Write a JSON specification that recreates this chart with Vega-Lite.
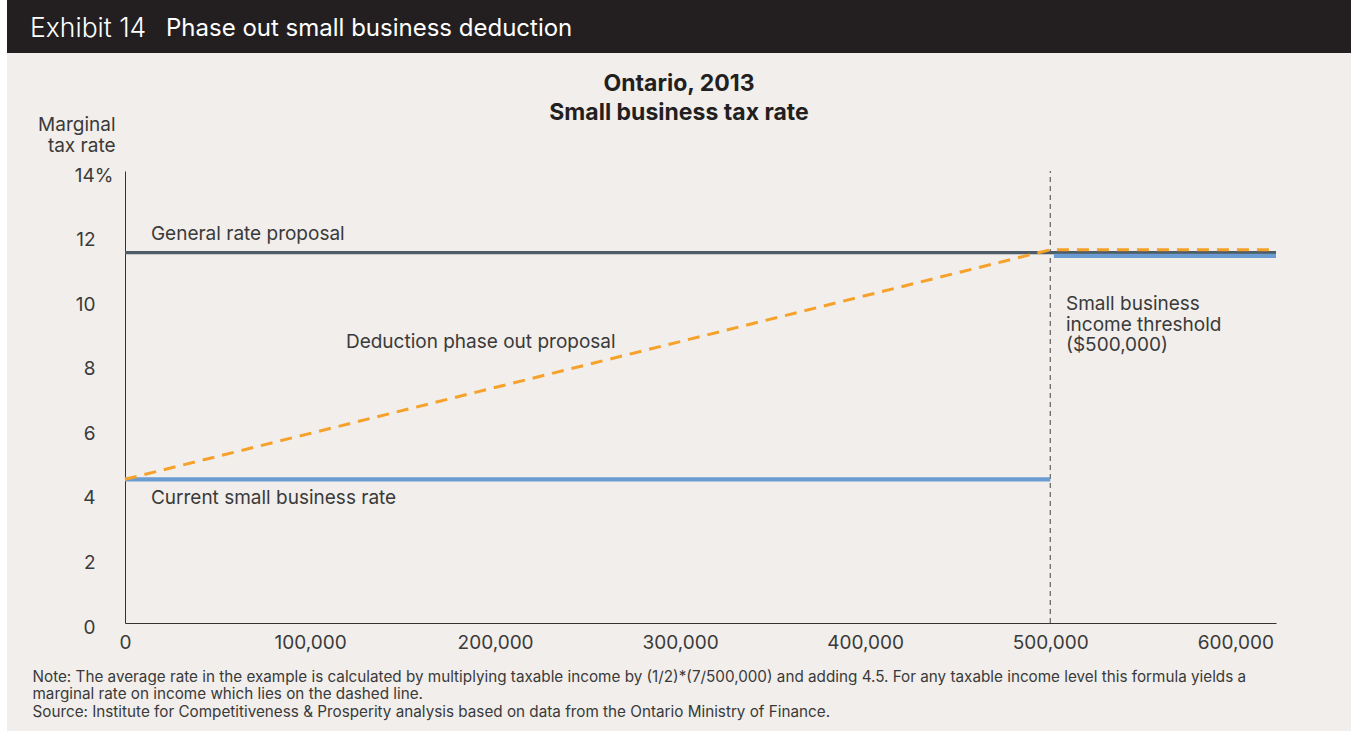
{
  "$schema": "https://vega.github.io/schema/vega-lite/v6.json",
  "background": "#ffffff",
  "padding": {"left": 7, "top": 0, "right": 1, "bottom": 1},
  "spacing": 0,
  "bounds": "flush",
  "config": {
    "font": "Inter",
    "view": {"stroke": null},
    "axis": {
      "labelFont": "Inter",
      "labelFontSize": 19,
      "labelColor": "#3a3a3a",
      "titleFont": "Inter",
      "titleColor": "#3a3a3a",
      "titleFontWeight": "normal",
      "domainColor": "#333333",
      "domainWidth": 1,
      "ticks": false,
      "grid": false
    }
  },
  "vconcat": [
    {
      "width": 1344,
      "height": 53,
      "view": {"fill": "#231f20", "stroke": null},
      "data": {
        "values": [
          {"part": "exhibit", "label": "Exhibit 14"},
          {"part": "heading", "label": "Phase out small business deduction"}
        ]
      },
      "encoding": {
        "x": {
          "field": "part",
          "type": "nominal",
          "scale": {"type": "point", "domain": ["exhibit", "heading"], "range": [23, 159], "padding": 0},
          "axis": null
        },
        "text": {"field": "label"}
      },
      "layer": [
        {
          "transform": [{"filter": "datum.part === 'exhibit'"}],
          "mark": {"type": "text", "align": "left", "baseline": "middle", "dy": 2.5, "fontSize": 26.5, "fontWeight": 300, "color": "#ffffff"}
        },
        {
          "transform": [{"filter": "datum.part === 'heading'"}],
          "mark": {"type": "text", "align": "left", "baseline": "middle", "dy": 2.5, "fontSize": 24, "fontWeight": 400, "color": "#ffffff"}
        }
      ]
    },
    {
      "width": 1344,
      "height": 678,
      "view": {"fill": "#f1eeeb", "stroke": null},
      "title": {
        "text": ["Ontario, 2013", "Small business tax rate"],
        "fontSize": 23,
        "fontWeight": "bold",
        "color": "#231f20",
        "anchor": "middle",
        "frame": "group",
        "offset": -72,
        "lineHeight": 29
      },
      "layer": [
        {
          "data": {"values": [{"income": 500000, "low": 0, "high": 14}]},
          "mark": {"type": "rule", "color": "#444444", "strokeWidth": 1, "strokeDash": [5, 4]},
          "encoding": {
            "x": {
              "field": "income",
              "type": "quantitative",
              "scale": {"domain": [0, 622000], "range": [118, 1269], "nice": false, "zero": false},
              "axis": {
                "values": [0, 100000, 200000, 300000, 400000, 500000, 600000],
                "format": ",d",
                "offset": -108,
                "labelPadding": 10,
                "labelFlush": false,
                "title": [
                  "Note: The average rate in the example is calculated by multiplying taxable income by (1/2)*(7/500,000) and adding 4.5. For any taxable income level this formula yields a",
                  "marginal rate on income which lies on the dashed line.",
                  "Source: Institute for Competitiveness & Prosperity analysis based on data from the Ontario Ministry of Finance."
                ],
                "titleAnchor": "start",
                "titleAlign": "left",
                "titleBaseline": "alphabetic",
                "titleX": 25,
                "titleY": 58,
                "titleFontSize": 15.25,
                "titleLineHeight": 17.5
              }
            },
            "y": {
              "field": "low",
              "type": "quantitative",
              "scale": {"domain": [0, 14], "range": [570, 118], "nice": false, "zero": false},
              "axis": {
                "values": [0, 2, 4, 6, 8, 10, 12, 14],
                "offset": -118,
                "labelPadding": {"condition": {"test": "datum.value === 14", "value": 12}, "value": 30},
                "labelOffset": 4,
                "labelExpr": "datum.value === 14 ? '14%' : datum.label",
                "title": ["Marginal", "tax rate"],
                "titleAngle": 0,
                "titleAlign": "right",
                "titleBaseline": "alphabetic",
                "titleX": -10,
                "titleY": 77,
                "titleFontSize": 19,
                "titleLineHeight": 21
              }
            },
            "y2": {"field": "high"}
          }
        },
        {
          "data": {
            "values": [
              {"series": "general", "seg": "g", "income": 0, "rate": 11.47},
              {"series": "general", "seg": "g", "income": 622000, "rate": 11.47},
              {"series": "current", "seg": "c1", "income": 0, "rate": 4.45},
              {"series": "current", "seg": "c1", "income": 500000, "rate": 4.45},
              {"series": "current", "seg": "c2", "income": 502000, "rate": 11.37},
              {"series": "current", "seg": "c2", "income": 622000, "rate": 11.37},
              {"series": "phaseout", "seg": "p", "income": 0, "rate": 4.45},
              {"series": "phaseout", "seg": "p", "income": 500000, "rate": 11.56},
              {"series": "phaseout", "seg": "p", "income": 622000, "rate": 11.56}
            ]
          },
          "encoding": {
            "x": {"field": "income", "type": "quantitative"},
            "y": {"field": "rate", "type": "quantitative"},
            "detail": {"field": "seg"}
          },
          "layer": [
            {
              "transform": [{"filter": "datum.series === 'general'"}],
              "mark": {"type": "line", "color": "#4d5c66", "strokeWidth": 3.2}
            },
            {
              "transform": [{"filter": "datum.series === 'current'"}],
              "mark": {"type": "line", "color": "#6a9bd1", "strokeWidth": 4.2}
            },
            {
              "transform": [{"filter": "datum.series === 'phaseout'"}],
              "mark": {"type": "line", "color": "#f6a12a", "strokeWidth": 3, "strokeDash": [12, 8]}
            }
          ]
        },
        {
          "data": {
            "values": [
              {"income": 14000, "rate": 12.06, "label": "General rate proposal"},
              {"income": 119400, "rate": 8.70, "label": "Deduction phase out proposal"},
              {"income": 14000, "rate": 3.87, "label": "Current small business rate"},
              {"income": 508500, "rate": 9.88, "label": "Small business\nincome threshold\n($500,000)"}
            ]
          },
          "mark": {"type": "text", "align": "left", "baseline": "middle", "fontSize": 19, "lineBreak": "\n", "lineHeight": 20.5, "color": "#3a3a3a"},
          "encoding": {
            "x": {"field": "income", "type": "quantitative"},
            "y": {"field": "rate", "type": "quantitative"},
            "text": {"field": "label"}
          }
        }
      ]
    }
  ]
}
